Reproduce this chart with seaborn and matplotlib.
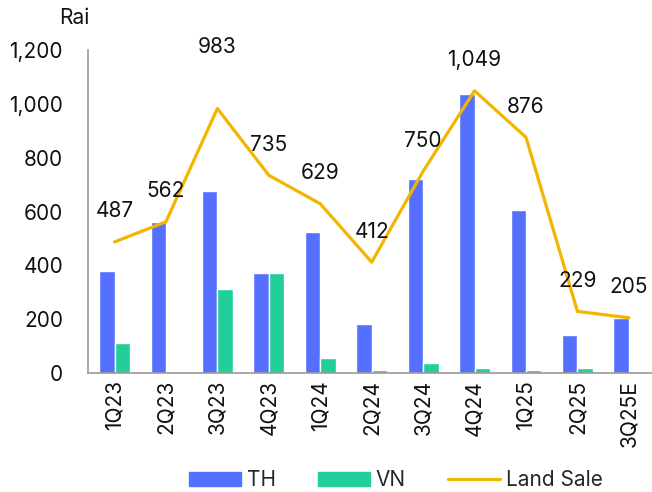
import pandas as pd
import matplotlib.pyplot as plt
import seaborn as sns

quarters = ['1Q23', '2Q23', '3Q23', '4Q23', '1Q24', '2Q24',
            '3Q24', '4Q24', '1Q25', '2Q25', '3Q25E']
th = [379, 563, 678, 370, 523, 182, 720, 1037, 605, 141, 205]
vn = [110, 0, 312, 370, 57, 12, 36, 17, 10, 17, 0]
land_sale = [487, 562, 983, 735, 629, 412, 750, 1049, 876, 229, 205]

sns.set_theme(style='white')
plt.rcParams['font.family'] = ['Inter', 'DejaVu Sans']

df = pd.DataFrame({
    'Quarter': quarters * 2,
    'Area': th + vn,
    'Country': ['TH'] * len(quarters) + ['VN'] * len(quarters),
})

colors = {'TH': '#5570FF', 'VN': '#22CE99'}
line_color = '#F2B600'
fs = 15

fig = plt.figure(figsize=(6.52, 4.92), dpi=100)
ax = fig.add_axes([0.135, 0.242, 0.865, 0.656])

sns.barplot(data=df, x='Quarter', y='Area', hue='Country', palette=colors,
            width=0.6, saturation=1, legend=False, ax=ax)
sns.lineplot(x=quarters, y=land_sale, color=line_color, linewidth=2.3,
             sort=False, ax=ax)

# data labels above the line
for i, v in enumerate(land_sale):
    off = 44 if v == 983 else 22
    ax.annotate(f'{v:,}', (i, v), xytext=(0, off), textcoords='offset points',
                ha='center', va='center', fontsize=fs, color='#111111')

ax.set_ylim(0, 1200)
ax.set_xlim(-0.515, 10.45)
ax.set_yticks(range(0, 1201, 200))
ax.set_yticklabels([f'{t:,}' for t in range(0, 1201, 200)])
ax.set_xlabel('')
ax.set_ylabel('')
ax.tick_params(axis='y', length=0, pad=18, labelsize=fs, labelcolor='#111111')
ax.tick_params(axis='x', length=0, pad=5, labelsize=fs, labelcolor='#111111',
               labelrotation=90)

for s in ['top', 'right']:
    ax.spines[s].set_visible(False)
for s in ['left', 'bottom']:
    ax.spines[s].set_color('#999999')
    ax.spines[s].set_linewidth(1.2)

fig.text(74 / 652, 1 - 18 / 492, 'Rai', ha='center', va='center',
         fontsize=fs, color='#111111')

handles = [
    plt.Rectangle((0, 0), 1, 1, color=colors['TH']),
    plt.Rectangle((0, 0), 1, 1, color=colors['VN']),
    plt.Line2D([0], [0], color=line_color, linewidth=2.3),
]
fig.legend(handles, ['TH', 'VN', 'Land Sale'], loc='center',
           bbox_to_anchor=(0.607, 0.024), ncol=3, frameon=False,
           fontsize=fs, handlelength=2.5, handleheight=0.7,
           columnspacing=2.0, handletextpad=0.3)

fig.savefig('out.png', dpi=100)
